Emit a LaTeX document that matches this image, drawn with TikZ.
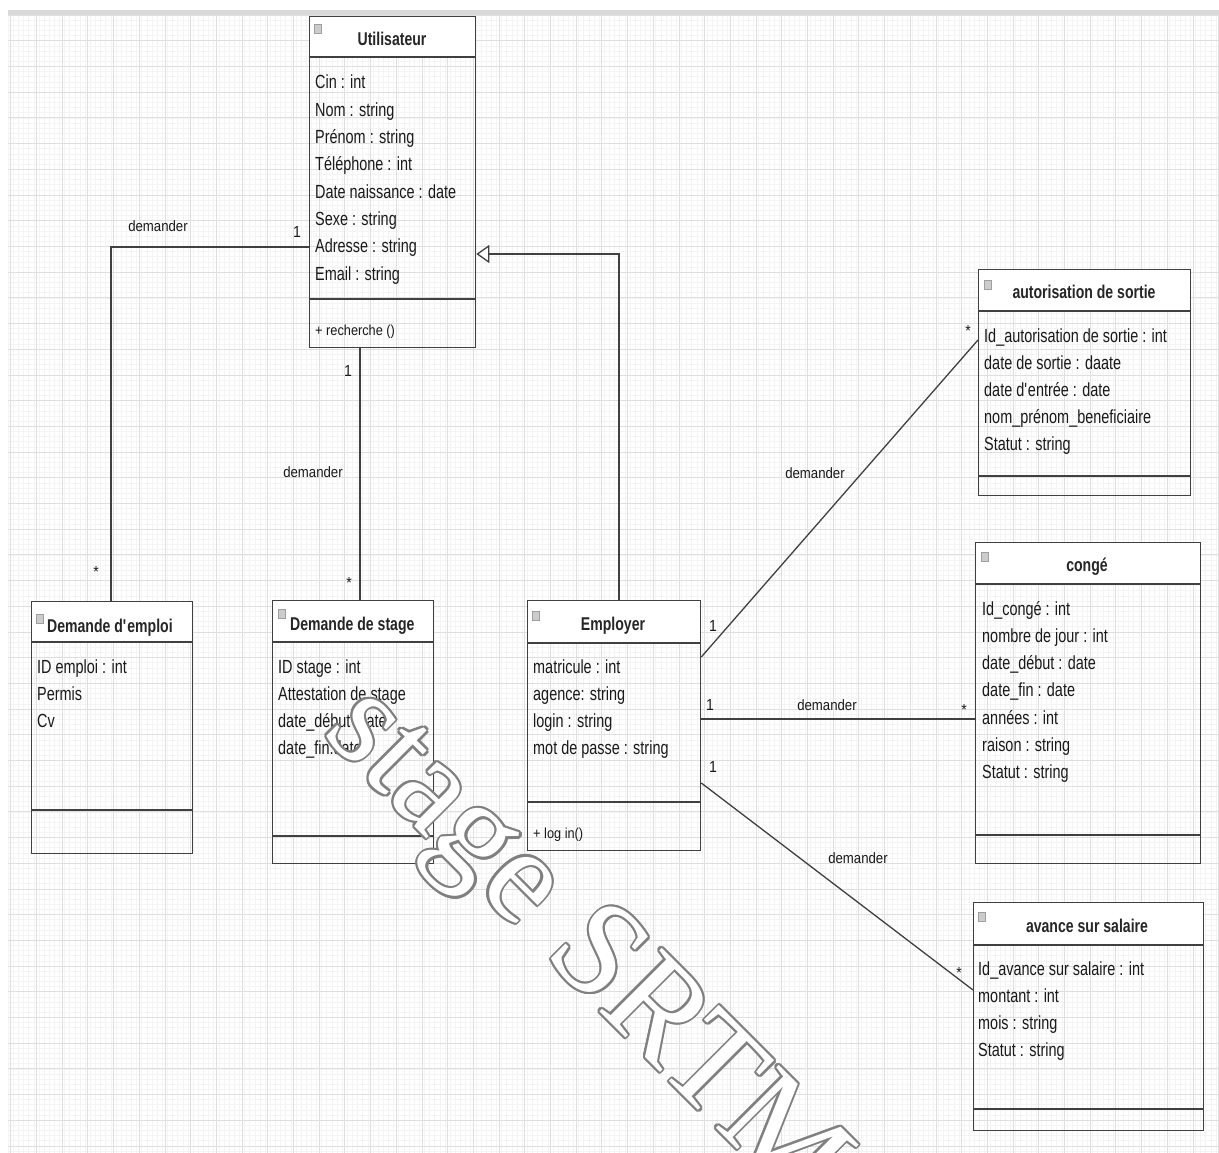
\documentclass[tikz,border=0pt]{standalone}
\usepackage{fontspec}
\setmainfont{Liberation Sans}[FakeStretch=0.76]
\newfontfamily\labelfont{Liberation Sans}[FakeStretch=0.88]
\newfontfamily\wmfont{Liberation Serif}
\usetikzlibrary{arrows.meta,calc,backgrounds}

\tikzset{
  classbox/.style={draw=black!75, line width=1.3pt, rectangle, inner sep=0pt, anchor=north west},
  divider/.style={draw=black!75, line width=1.3pt},
  ctitle/.style={font={\fontsize{18.5}{20}\selectfont\bfseries}, inner sep=0pt, anchor=base, text=black!85},
  attr/.style={font={\fontsize{19}{20}\selectfont}, inner sep=0pt, anchor=base west, text=black!90},
  method/.style={font={\labelfont\fontsize{14.5}{16}\selectfont}, inner sep=0pt, anchor=base west, text=black!90},
  lbl/.style={font={\labelfont\fontsize{15}{16}\selectfont}, inner sep=0pt, anchor=base, text=black!90},
  mult/.style={font={\labelfont\fontsize{16}{16}\selectfont}, inner sep=0pt, anchor=base, text=black!90},
  icon/.style={draw=gray!75, fill=gray!40, minimum width=7pt, minimum height=9pt, inner sep=0pt, line width=0.5pt},
  assoc/.style={draw=black!75, line width=1.3pt},
  wm/.style={font={\wmfont\fontsize{136}{136}\selectfont}, inner sep=0pt, anchor=base west, rotate=-45}
}

% class frame: name, x, y, width, height, title divider, method divider
\newcommand\classframe[7]{%
  \node[classbox, minimum width=#4pt, minimum height=#5pt] (#1) at (#2,#3) {};
  \begin{pgfonlayer}{background}
    \fill[white] (#1.north west) rectangle ($(#1.north east)+(0,#6)$);
  \end{pgfonlayer}
  \draw[divider] ($(#1.north west)+(0,#6)$) -- ($(#1.north east)+(0,#6)$);
  \draw[divider] ($(#1.north west)+(0,#7)$) -- ($(#1.north east)+(0,#7)$);
}
% attribute lines: name prefix, x, first baseline, spacing, list
\newcommand\attrlines[5]{%
  \foreach \t [count=\i] in {#5} {\node[attr] (#1\i) at ({#2},{#3+#4*(\i-1)}) {\t};}
}

\begin{document}
\begin{tikzpicture}[x=1pt,y=-1pt]
\useasboundingbox (0,0) rectangle (1219,1153);

% paper and grid
\begin{pgfonlayer}{background}
  \fill[white] (0,0) rectangle (1219,1153);
  \foreach \k in {0,...,237} \draw[gray!9, line width=0.4pt] ({8+5.14*\k},15) -- ({8+5.14*\k},1153);
  \foreach \k in {0,...,221} \draw[gray!9, line width=0.4pt] (8,{15+5.14*\k}) -- (1219,{15+5.14*\k});
  \foreach \k in {0,...,47} \draw[gray!25, line width=0.6pt] ({10.6+25.7*\k},15) -- ({10.6+25.7*\k},1153);
  \foreach \k in {0,...,44} \draw[gray!25, line width=0.6pt] (8,{15+25.7*\k}) -- (1219,{15+25.7*\k});
  \fill[gray!30] (8,10) rectangle (1219,15);
\end{pgfonlayer}

% classes
\classframe{util}{309}{16}{166}{331}{41}{283}
\classframe{emploi}{31}{601}{161}{252}{41}{209}
\classframe{stage}{272}{600}{161}{263}{42}{236}
\classframe{emp}{527}{600}{173}{250}{43}{202}
\classframe{autor}{978}{269}{212}{226}{42}{207}
\classframe{conge}{975}{542}{225}{321}{42}{293}
\classframe{avance}{973}{902}{230}{228}{43}{207}

% collapse icons
\node[icon] (util-i) at (318,29) {};
\node[icon] (emploi-i) at (40,619) {};
\node[icon] (stage-i) at (282,614) {};
\node[icon] (emp-i) at (536,616) {};
\node[icon] (autor-i) at (988,285) {};
\node[icon] (conge-i) at (985,557) {};
\node[icon] (avance-i) at (982,917) {};

% titles
\node[ctitle] (util-t) at (392,46) {Utilisateur};
\node[ctitle, anchor=base west] (emploi-t) at (47,632) {Demande d\textquotesingle emploi};
\node[ctitle, anchor=base west] (stage-t) at (290,630) {Demande de stage};
\node[ctitle] (emp-t) at (613,630) {Employer};
\node[ctitle] (autor-t) at (1084,298) {autorisation de sortie};
\node[ctitle] (conge-t) at (1087,571) {congé};
\node[ctitle] (avance-t) at (1087,932) {avance sur salaire};

% attributes
\attrlines{util-a}{315}{89}{27.3}{Cin : int, Nom : string, Prénom : string, Téléphone : int, Date naissance : date, Sexe : string, Adresse : string, Email : string}
\attrlines{emploi-a}{37}{673}{27.2}{ID emploi : int, Permis, Cv}
\attrlines{stage-a}{278}{673}{27.3}{ID stage : int, Attestation de stage, date\_début :date, date\_fin:date}
\attrlines{emp-a}{533}{673}{27.3}{matricule : int, agence: string, login : string, mot de passe : string}
\attrlines{autor-a}{984}{342}{27.2}{Id\_autorisation de sortie : int, date de sortie : daate, date d\textquotesingle entrée : date, nom\_prénom\_beneficiaire, Statut : string}
\attrlines{conge-a}{982}{615}{27.3}{Id\_congé : int, nombre de jour : int, date\_début : date, date\_fin : date, années : int, raison : string, Statut : string}
\attrlines{avance-a}{978}{975}{27.3}{Id\_avance sur salaire : int, montant : int, mois : string, Statut : string}

% operations
\node[method] (util-m) at (315,335) {+ recherche ()};
\node[method] (emp-m) at (533,838) {+ log in()};

% associations
\draw[assoc] ($(util.north west)+(0,231)$) -| ($(emploi.north west)+(80,0)$);
\draw[assoc] ($(util.south west)+(51,0)$) -- ($(stage.north west)+(88,0)$);
\draw[assoc] ($(emp.north east)+(0,57)$) -- ($(autor.north west)+(0,71)$);
\draw[assoc] ($(emp.north east)+(0,119)$) -- ($(conge.north west)+(0,177)$);
\draw[assoc] ($(emp.north east)+(0,183)$) -- ($(avance.north west)+(0,88)$);
% generalisation
\draw[assoc, -{Triangle[open, length=13pt, width=18pt, fill=white]}]
  ($(emp.north west)+(92,0)$) |- ($(util.north east)+(0,238)$);

% association labels
\node[lbl] (l1) at (158,231) {demander};
\node[mult] (m1a) at (297,237) {1};
\node[mult] (m1b) at (96,577) {*};
\node[lbl] (l2) at (313,477) {demander};
\node[mult] (m2a) at (348,376) {1};
\node[mult] (m2b) at (349,588) {*};
\node[lbl] (l3) at (815,478) {demander};
\node[mult] (m3a) at (713,631) {1};
\node[mult] (m3b) at (968,336) {*};
\node[lbl] (l4) at (827,710) {demander};
\node[mult] (m4a) at (710,710) {1};
\node[mult] (m4b) at (964,715) {*};
\node[lbl] (l5) at (858,863) {demander};
\node[mult] (m5a) at (713,772) {1};
\node[mult] (m5b) at (959,978) {*};

% watermark: outlined lettering (grey halo under white letters)
\foreach \a in {0,30,...,330}
  \node[wm, text=black!50, shift={(\a:2.2pt)}] (wmhalo\a) at (321,733) {stage SRTM};
\node[wm, text=white] (wmark) at (321,733) {stage SRTM};
\end{tikzpicture}
\end{document}
